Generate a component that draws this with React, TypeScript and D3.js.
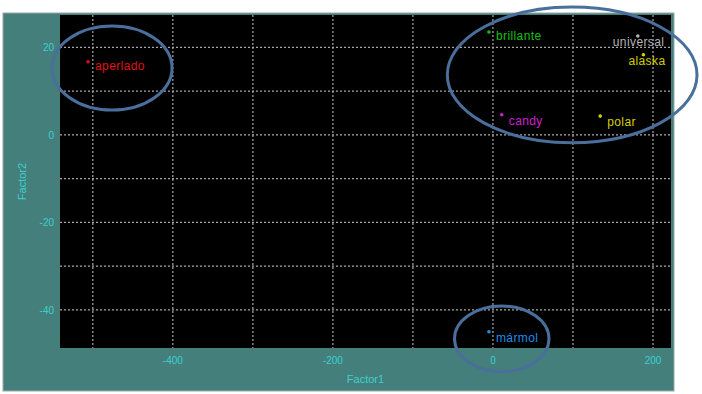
import React from "react";
import * as d3 from "d3";

const names = ["aperlado", "brillante", "universal", "alaska", "candy", "polar", "mármol"];
const factor1 = [-506, -5, 181, 188, 11, 134, -5];
const factor2 = [16.7, 23.5, 22.6, 18.3, 4.6, 4.3, -45];
const colors = ["#e01010", "#10c010", "#b4b4b4", "#d0d000", "#d020d0", "#d0d000", "#1a8fe8"];
// label offsets in px relative to point
const labelDx = [7, 7, -25, -15, 7, 7, 7];
const labelDy = [8, 8, 10, 10, 10, 10, 10];

const xTicks = [-500, -400, -300, -200, -100, 0, 100, 200];
const xLabels = [-400, -200, 0, 200];
const yTicks = [20, 10, 0, -10, -20, -30, -40];
const yLabels = [20, 0, -20, -40];

// annotation ellipses in data units: cx, cy, rx, ry
const ellipseCx = [-476, 99, 11];
const ellipseCy = [15.3, 13.7, -46.6];
const ellipseRx = [75, 156, 59];
const ellipseRy = [9.6, 15.5, 7.5];

const W = 702;
const H = 394;
const left = 60;
const right = 671;
const top = 15;
const bottom = 348;

export default function App() {
  const x = d3.scaleLinear().domain([-541, 222.5]).range([left, right]);
  const y = d3.scaleLinear().domain([27.4, -48.7]).range([top, bottom]);
  const tickColor = "#3ccfcf";
  const font = "'Liberation Sans', Arial, sans-serif";

  return (
    <svg
      width={W}
      height={H}
      style={{ position: "absolute", left: 0, top: 0 }}
    >
      <rect x={0} y={0} width={W} height={H} fill="#ffffff" />
      <rect x={3} y={13} width={671} height={378} fill="#447f7c" stroke="#9aa8a8" strokeWidth={1} />
      <rect x={left} y={top} width={right - left} height={bottom - top} fill="#000000" />

      {xTicks.map((t) => (
        <g key={"xg" + t}>
          <line
            x1={x(t)}
            x2={x(t)}
            y1={top}
            y2={bottom}
            stroke="#a8a8a8"
            strokeWidth={1.2}
            strokeDasharray="2,2"
          />
          <line x1={x(t)} x2={x(t)} y1={bottom} y2={bottom + 4} stroke="#6a6a6a" strokeWidth={1} />
        </g>
      ))}
      {yTicks.map((t) => (
        <g key={"yg" + t}>
          <line
            x1={left}
            x2={right}
            y1={y(t)}
            y2={y(t)}
            stroke="#a8a8a8"
            strokeWidth={1.2}
            strokeDasharray="2,2"
          />
          <line x1={left - 4} x2={left} y1={y(t)} y2={y(t)} stroke="#6a6a6a" strokeWidth={1} />
        </g>
      ))}

      {xLabels.map((t) => (
        <text
          key={"xl" + t}
          x={x(t)}
          y={bottom + 16}
          fill={tickColor}
          fontSize={10}
          fontFamily={font}
          textAnchor="middle"
        >
          {t}
        </text>
      ))}
      {yLabels.map((t) => (
        <text
          key={"yl" + t}
          x={left - 6}
          y={y(t) + 4}
          fill={tickColor}
          fontSize={10}
          fontFamily={font}
          textAnchor="end"
        >
          {t}
        </text>
      ))}

      <text
        x={(left + right) / 2}
        y={383}
        fill={tickColor}
        fontSize={11}
        fontFamily={font}
        textAnchor="middle"
      >
        Factor1
      </text>
      <text
        transform={`translate(26, ${(top + bottom) / 2}) rotate(-90)`}
        fill={tickColor}
        fontSize={11}
        fontFamily={font}
        textAnchor="middle"
      >
        Factor2
      </text>

      {names.map((n, i) => (
        <g key={n}>
          <circle cx={x(factor1[i])} cy={y(factor2[i])} r={1.8} fill={colors[i]} />
          <text
            x={x(factor1[i]) + labelDx[i]}
            y={y(factor2[i]) + labelDy[i]}
            fill={colors[i]}
            fontSize={12}
            fontFamily={font}
            letterSpacing={0.4}
          >
            {n}
          </text>
        </g>
      ))}

      {ellipseCx.map((c, i) => (
        <ellipse
          key={"e" + i}
          cx={x(c)}
          cy={y(ellipseCy[i])}
          rx={x(ellipseRx[i]) - x(0)}
          ry={y(0) - y(ellipseRy[i])}
          fill="none"
          stroke="#4a6f9c"
          strokeWidth={3}
        />
      ))}
    </svg>
  );
}
